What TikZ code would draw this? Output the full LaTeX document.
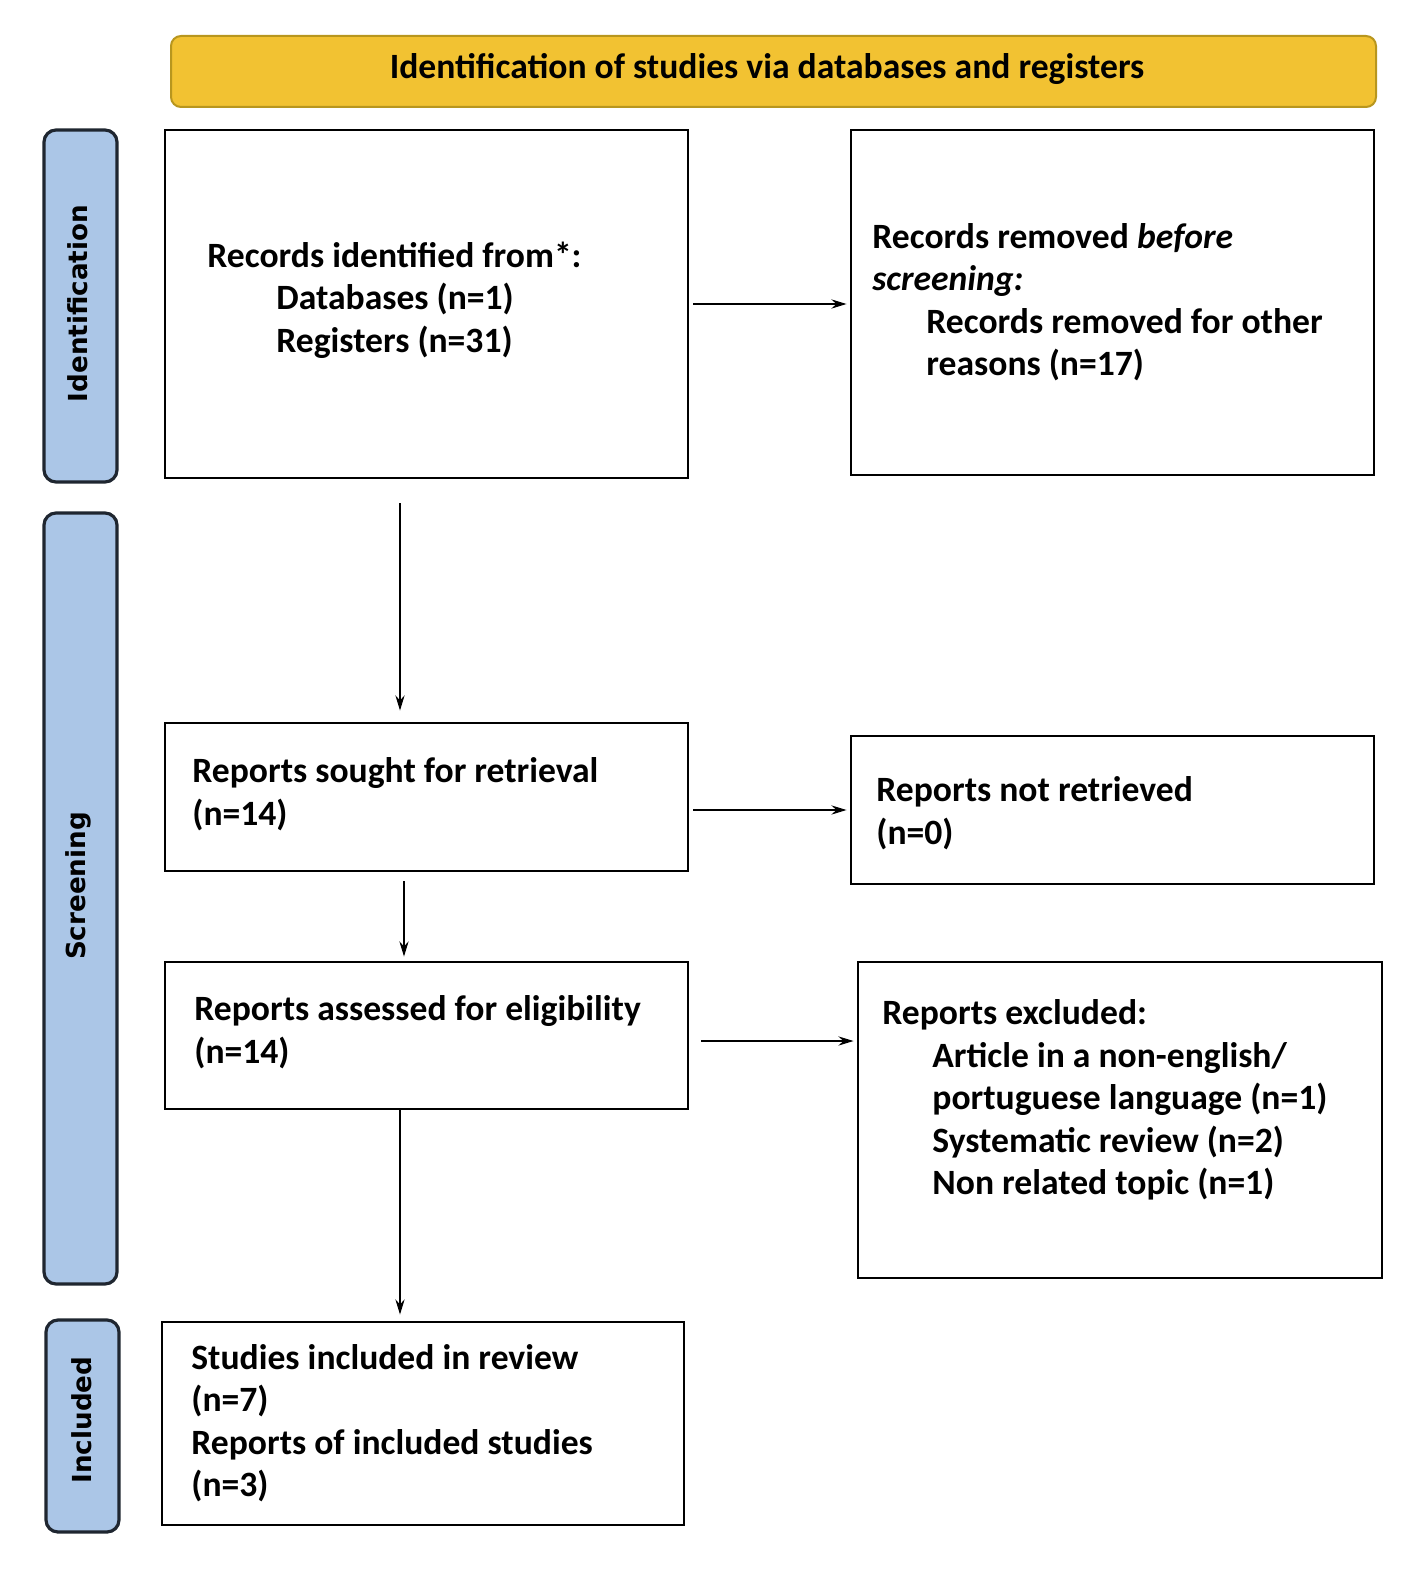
\documentclass[tikz,border=0pt]{standalone}
\usepackage{fontspec}
\setmainfont{Carlito}
\newfontfamily\sidefont{DejaVu Sans}
\usetikzlibrary{arrows.meta,calc}
\definecolor{hdrfill}{HTML}{F2C232}
\definecolor{hdrline}{HTML}{B8961E}
\definecolor{sidefill}{HTML}{ABC6E7}
\definecolor{sideline}{HTML}{1F2630}
\begin{document}
\begin{tikzpicture}[x=0.5pt,y=-0.5pt,
  box/.style={draw=black,line width=1.4pt,fill=white,inner sep=0pt},
  hdr/.style={draw=hdrline,line width=1pt,fill=hdrfill,rounded corners=5pt,inner sep=0pt},
  side/.style={draw=sideline,line width=1.6pt,fill=sidefill,rounded corners=6pt,inner sep=0pt},
  txt/.style={anchor=west,align=left,inner sep=0pt,font=\fontsize{17.8}{21.25}\selectfont\bfseries},
  sidetxt/.style={rotate=90,inner sep=0pt,font=\sidefont\fontsize{13.1}{15}\selectfont\bfseries},
  arr/.style={line width=1.3pt,-{Stealth[length=7.5pt,width=4.5pt]}}]
\useasboundingbox (0,0) rectangle (1417,1578);
% header
\node[hdr,minimum width=602.5pt,minimum height=35.5pt] (hd) at (773.5,71.5) {};
\node[txt,anchor=center] (hdt) at (767,69) {Identification of studies via databases and registers};
% side labels
\node[side,minimum width=36.5pt,minimum height=176pt] (s1) at (80.5,306) {};
\node[sidetxt] (s1t) at (78,303.5) {Identification};
\node[side,minimum width=36.5pt,minimum height=385.5pt] (s2) at (80.5,898.5) {};
\node[sidetxt] (s2t) at (78,886) {Screening};
\node[side,minimum width=36.5pt,minimum height=106pt] (s3) at (82.5,1426) {};
\node[sidetxt] (s3t) at (82,1420) {Included};
% boxes
\node[box,minimum width=261.5pt,minimum height=174pt] (b1) at (426.5,304) {};
\node[box,minimum width=261.5pt,minimum height=172.5pt] (b2) at (1112.5,302.5) {};
\node[box,minimum width=261.5pt,minimum height=74pt] (b3) at (426.5,797) {};
\node[box,minimum width=261.5pt,minimum height=74pt] (b4) at (1112.5,810) {};
\node[box,minimum width=261.5pt,minimum height=73.5pt] (b5) at (426.5,1035.5) {};
\node[box,minimum width=262pt,minimum height=158pt] (b6) at (1120,1120) {};
\node[box,minimum width=261pt,minimum height=101.5pt] (b7) at (423,1423.5) {};
% texts
\node[txt] (t1) at (207,300) {Records identified from*:\\\hspace*{34.5pt}Databases (n=1)\\\hspace*{34.5pt}Registers (n=31)};
\node[txt] (t2) at (872,302) {Records removed \textit{before}\\\textit{screening:}\\\hspace*{27pt}Records removed for other\\\hspace*{27pt}reasons (n=17)};
\node[txt] (t3) at (192,794) {Reports sought for retrieval\\(n=14)};
\node[txt] (t4) at (876,813) {Reports not retrieved\\(n=0)};
\node[txt] (t5) at (194,1032) {Reports assessed for eligibility\\(n=14)};
\node[txt] (t6) at (882,1100) {Reports excluded:\\\hspace*{25pt}Article in a non-english/\\\hspace*{25pt}portuguese language (n=1)\\\hspace*{25pt}Systematic review (n=2)\\\hspace*{25pt}Non related topic (n=1)};
\node[txt] (t7) at (191,1423) {Studies included in review\\(n=7)\\Reports of included studies\\(n=3)};
% arrows
\draw[arr,shorten <=2pt,shorten >=1.5pt] (b1.east) -- (b1.east -| b2.west);
\draw[arr,shorten <=2pt,shorten >=1.5pt] (b4.west -| b3.east) -- (b4.west);
\draw[arr,shorten <=6pt,shorten >=1.5pt] ([yshift=-2.75pt]b5.east) -- ([yshift=-2.75pt]b5.east -| b6.west);
\draw[arr,shorten <=12pt,shorten >=5.5pt] ([xshift=-13.25pt]b1.south) -- ([xshift=-13.25pt]b1.south |- b3.north);
\draw[arr,shorten <=4.5pt,shorten >=2pt] ([xshift=-11.25pt]b3.south) -- ([xshift=-11.25pt]b3.south |- b5.north);
\draw[arr,shorten <=0pt,shorten >=3pt] ([xshift=-13.25pt]b5.south) -- ([xshift=-13.25pt]b5.south |- b7.north);
\end{tikzpicture}
\end{document}
